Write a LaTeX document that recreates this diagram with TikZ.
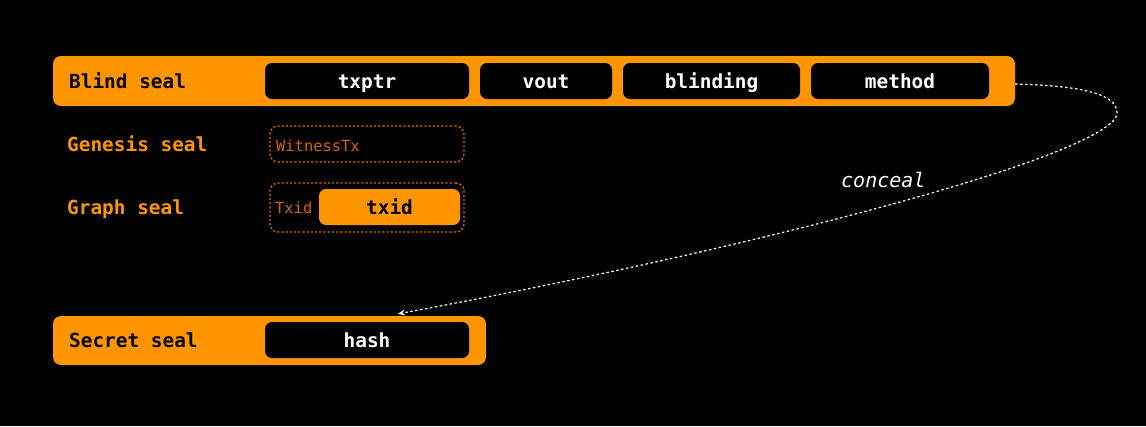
\documentclass[tikz,border=0pt]{standalone}
\usepackage{fontspec}
\setmonofont{DejaVu Sans Mono}
\usetikzlibrary{arrows.meta,positioning,calc}
\definecolor{sealorange}{RGB}{255,149,0}
\definecolor{dimorange}{RGB}{214,100,0}
\newcommand{\sealfont}{\ttfamily\bfseries\fontsize{19.4}{22}\selectfont}

\begin{document}
\begin{tikzpicture}[x=1pt,y=-1pt,
  bar/.style={fill=sealorange,rounded corners=8pt,inner sep=0pt},
  field/.style={fill=black,rounded corners=7pt,text=white,font=\sealfont,
    minimum height=36pt,text height=14pt,text depth=0pt,inner sep=0pt},
  sealname/.style={font=\sealfont,anchor=base west,inner sep=0pt},
  slot/.style={draw=dimorange,dash pattern=on 2.2pt off 2pt,line width=1.3pt,
    rounded corners=8pt,inner sep=0pt}]
  \fill[black] (0,0) rectangle (1146,426);
  \useasboundingbox (0,0) rectangle (1146,426);
  % ---------- top: the blind seal and its four fields ----------
  \node[bar,minimum width=962pt,minimum height=50pt] (blind) at (534,81) {};
  \node[sealname,text=black] (blindlab) at (69,88) {Blind seal};
  \foreach \name/\cx/\w in {txptr/367/204,vout/546/132,blinding/711.5/177,method/900/178}
    {\node[field,minimum width=\w pt] (\name) at (\cx,81) {\name};}
  % ---------- middle: genesis and graph seals ----------
  \node[sealname,text=sealorange] (genlab) at (67,151) {Genesis seal};
  \node[slot,minimum width=194pt,minimum height=36pt] (witness) at (367,144) {};
  \node[anchor=base west,inner sep=0pt,text=dimorange,font=\ttfamily\fontsize{15.4}{18}\selectfont]
    at (276,151) {WitnessTx};
  \node[sealname,text=sealorange] (graphlab) at (67,214) {Graph seal};
  \node[slot,minimum width=194pt,minimum height=49pt] (graph) at (367,207.5) {};
  \node[anchor=base west,inner sep=0pt,text=dimorange,font=\ttfamily\fontsize{15.4}{18}\selectfont]
    (txidlab) at (275,213) {Txid};
  \node[field,fill=sealorange,text=black,minimum width=141pt] (txid) at (389.5,207) {txid};
  % ---------- bottom: the secret seal ----------
  \node[bar,minimum width=433pt,minimum height=49pt] (secret) at (269.5,340.5) {};
  \node[sealname,text=black] (secretlab) at (69,347) {Secret seal};
  \node[field,minimum width=204pt] (hash) at (367,340) {hash};
  % ---------- the conceal arrow ----------
  \coordinate (turn) at (1117,113);
  \draw[white,line width=1.2pt,dash pattern=on 2.5pt off 2.5pt,-{Stealth[length=7pt,width=6pt]}]
    ([yshift=-3pt]blind.east) .. controls (1090,86) and (1117,96) .. (turn)
      .. controls (1117,150) and (800,240) .. ([xshift=31pt,yshift=2pt]secret.north -| hash.north);
  \node[anchor=base west,inner sep=0pt,text=white,font=\ttfamily\itshape\fontsize{20}{24}\selectfont]
    (conceal) at (841,187) {conceal};
\end{tikzpicture}
\end{document}
